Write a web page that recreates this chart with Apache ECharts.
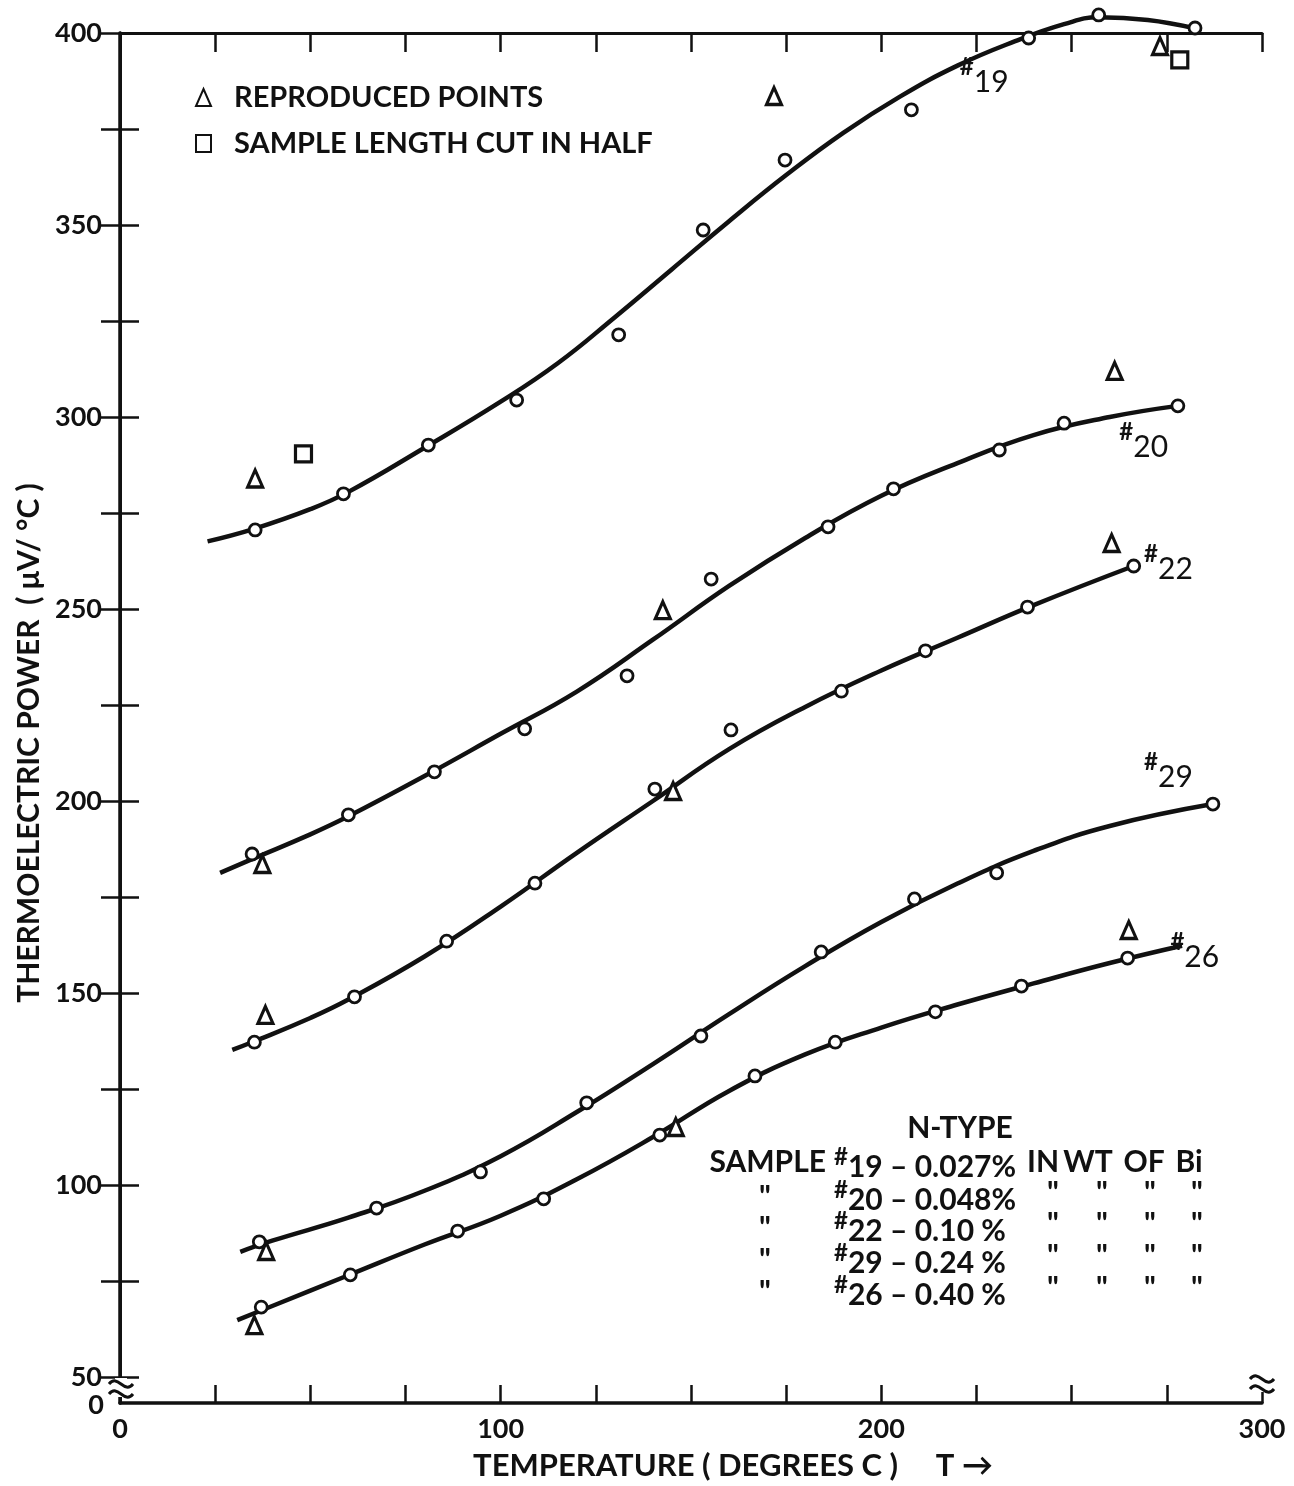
<!DOCTYPE html>
<html><head><meta charset="utf-8">
<script src="https://cdn.jsdelivr.net/npm/echarts@6/dist/echarts.min.js"></script>
<style>html,body{margin:0;padding:0;background:#fff}#c{width:1294px;height:1486px}</style>
</head><body><div id="c"></div>
<script>
// ---- axes ----
const xTickValues = [0,25,50,75,100,125,150,175,200,225,250,275,300];
const xLabelValues = [0,100,200,300];
const yTickValues = [50,75,100,125,150,175,200,225,250,275,300,325,350,375,400];
const yLabelValues = [50,100,150,200,250,300,350,400];
const yBreakValue = 43.23;   // axis break: bottom edge stands for 0
const yBreakLabel = '0';
const yMax = 400;

// ---- sample #19 ----
const s19Circles = [[35.5,270.6],[58.7,280],[81,292.7],[104.2,304.4],[131,321.4],[153.2,348.7],[174.7,366.9],[207.9,380],[238.7,398.7],[257.1,404.7],[282.4,401.3]];
const s19Triangles = [[35.5,284],[171.8,383.6],[273.2,396.6]];
const s19Squares = [[48.2,290.4],[278.4,393]];
const s19Curve = [[23,267.6],[35,270.8],[50,276],[60,280.5],[80,292],[100,304],[115,314],[130,326],[145,338.5],[160,351],[175,363],[190,374],[205,383.5],[220,391.5],[235,397.8],[248,402.3],[257,404.1],[270,403.4],[282,401.3]];
// ---- sample #20 ----
const s20Circles = [[34.7,186.2],[60,196.4],[82.6,207.6],[106.3,218.8],[133.2,232.6],[155.3,257.8],[186,271.4],[203.2,281.3],[231,291.4],[248,298.4],[277.9,302.9]];
const s20Triangles = [[37.4,183.6],[142.6,249.7],[261.3,312]];
const s20Curve = [[26.3,181.3],[35,185],[50,191.3],[60,196],[80,206.5],[100,217.5],[120,228.5],[140,242],[160,256],[180,268.5],[200,279.5],[220,288],[240,295.3],[260,300],[277.9,302.9]];
// ---- sample #22 ----
const s22Circles = [[35.3,137.2],[61.6,149],[85.8,163.5],[109,178.6],[140.5,203.1],[160.5,218.5],[189.5,228.6],[211.6,239.1],[238.4,250.5],[266.3,261.2]];
const s22Triangles = [[38.2,144.3],[145.3,202.6],[260.5,267.2]];
const s22Curve = [[29.5,135.2],[35,137.3],[50,143.5],[60,148.3],[80,159.5],[100,172.5],[120,186.5],[140,200],[160,213.5],[180,224.5],[200,234],[220,242.5],[240,251],[266.3,261.2]];
// ---- sample #29 ----
const s29Circles = [[36.6,85.2],[67.4,94],[94.7,103.4],[122.6,121.4],[152.6,138.8],[184.2,160.7],[208.7,174.5],[230.3,181.3],[287.1,199.2]];
const s29Triangles = [[38.4,82.8]];
const s29Curve = [[31.6,82.6],[40,85.5],[60,91.5],[80,98.5],[100,107.5],[120,119],[140,131.5],[160,144.5],[180,157],[200,168.5],[220,178.5],[240,187],[260,193.5],[287.1,199.2]];
// ---- sample #26 ----
const s26Circles = [[37.1,68.2],[60.5,76.6],[88.7,88],[111.3,96.4],[141.8,113],[166.8,128.4],[187.9,137.2],[214.2,145.1],[236.8,151.8],[264.7,159.1]];
const s26Triangles = [[35.3,63.5],[146,115.1],[265,166.4]];
const s26Curve = [[30.8,64.8],[40,68.5],[60,76.5],[80,84.5],[100,92],[120,101.5],[140,112.5],[160,124.5],[180,134],[200,141],[220,147],[240,152.5],[260,157.8],[279,162.3]];

// curve name tags: [x, y, number]
const curveTags = [[220.5,389.1,'19'],[262.4,294,'20'],[268.9,262.2,'22'],[268.9,208.1,'29'],[275.8,161.2,'26']];

const legendNames = ['REPRODUCED POINTS','SAMPLE LENGTH CUT IN HALF'];
const noteTitle = 'N-TYPE';
const noteSamples = ['19','20','22','29','26'];
const notePercents = ['0.027%','0.048%','0.10 %','0.24 %','0.40 %'];
const noteUnitWords = ['IN','WT','OF','Bi'];
const xName = 'TEMPERATURE ( DEGREES C )     T \u2192';
const yName = 'THERMOELECTRIC POWER  ( \u03BCV/ \u00B0C )';

const FONT = 'Lato, "Open Sans", sans-serif';
const INK = '#111';

const chart = echarts.init(document.getElementById('c'));

function curveSeries(data){
  return {type:'line', data, smooth:0.45, showSymbol:false, clip:false, silent:true, z:2,
    lineStyle:{color:INK, width:4.5}};
}

const grid = {left:120, right:32, top:33, bottom:83};

const option = {
  backgroundColor:'#fff',
  animation:false,
  grid,
  legend:{
    data:legendNames, orient:'vertical', left:190, top:78, itemGap:17,
    itemWidth:15, itemHeight:17, selectedMode:false,
    textStyle:{fontFamily:FONT, fontWeight:'bold', fontSize:29, color:INK, padding:[0,0,0,18]}
  },
  xAxis:[{
    type:'value', min:0, max:300, position:'bottom',
    name:xName, nameLocation:'middle', nameGap:47,
    nameTextStyle:{fontFamily:FONT, fontWeight:'bold', fontSize:31, color:INK, padding:[0,0,0,84]},
    axisLine:{show:true, lineStyle:{color:INK, width:3.5}},
    axisTick:{show:true, inside:true, length:18, customValues:xTickValues, lineStyle:{color:INK, width:2.5}},
    axisLabel:{customValues:xLabelValues, margin:13, fontFamily:FONT, fontWeight:'bold', fontSize:27, color:INK},
    splitLine:{show:false}
  },{
    type:'value', min:0, max:300, position:'top',
    axisLine:{show:true, lineStyle:{color:INK, width:3}},
    axisTick:{show:true, inside:true, length:19, customValues:xTickValues, lineStyle:{color:INK, width:2.5}},
    axisLabel:{show:false}, splitLine:{show:false}
  }],
  yAxis:[{
    type:'value', min:yBreakValue, max:yMax, position:'left',
    name:yName, nameLocation:'middle', nameGap:64,
    nameTextStyle:{fontFamily:FONT, fontWeight:'bold', fontSize:30, color:INK, padding:[0,50,0,0]},
    axisLine:{show:true, lineStyle:{color:INK, width:3.5}},
    axisTick:{show:true, inside:true, length:19, customValues:yTickValues, lineStyle:{color:INK, width:2.5}},
    axisLabel:{customValues:yLabelValues, margin:18,
      fontFamily:FONT, fontWeight:'bold', fontSize:27, color:INK},
    splitLine:{show:false}
  },{
    type:'value', min:yBreakValue, max:yMax, position:'right',
    axisLine:{show:true, lineStyle:{color:INK, width:3}},
    axisTick:{show:true, inside:true, length:19, customValues:yTickValues, lineStyle:{color:INK, width:2.5}},
    axisLabel:{show:false}, splitLine:{show:false}
  }],
  series:[
    curveSeries(s19Curve), curveSeries(s20Curve), curveSeries(s22Curve), curveSeries(s29Curve), curveSeries(s26Curve),
    {type:'scatter', name:'measured', data:[].concat(s19Circles,s20Circles,s22Circles,s29Circles,s26Circles),
      symbol:'circle', symbolSize:12, clip:false, z:4,
      itemStyle:{color:'#fff', borderColor:INK, borderWidth:2.8, opacity:1}},
    {type:'scatter', name:legendNames[0], data:[].concat(s19Triangles,s20Triangles,s22Triangles,s29Triangles,s26Triangles),
      symbol:'triangle', symbolSize:[15,17], clip:false, z:4,
      itemStyle:{color:'#fff', borderColor:INK, borderWidth:3.2, opacity:1}},
    {type:'scatter', name:legendNames[1], data:[].concat(s19Squares),
      symbol:'rect', symbolSize:16, clip:false, z:4,
      itemStyle:{color:'#fff', borderColor:INK, borderWidth:3.2, opacity:1}},
    {type:'scatter', name:'tags', data:curveTags.map(t => ({value:[t[0],t[1]], tag:t[2]})),
      symbolSize:1, itemStyle:{color:'rgba(0,0,0,0)', opacity:1}, clip:false, silent:true, z:5,
      label:{show:true, position:'right', distance:0,
        formatter:p => '{h|#}{n|' + p.data.tag + '}',
        rich:{h:{fontFamily:FONT, fontWeight:'bold', fontSize:24, color:INK, verticalAlign:'top', lineHeight:22},
              n:{fontFamily:FONT, fontWeight:'normal', fontSize:30, color:INK, lineHeight:40, padding:[14,0,0,0]}}}}
  ]
};
chart.setOption(option);

// ---- decorations: axis-break squiggles, break label and the N-TYPE note ----
const bl = chart.convertToPixel({xAxisIndex:0, yAxisIndex:0}, [0, yBreakValue]);
const br = chart.convertToPixel({xAxisIndex:0, yAxisIndex:0}, [300, yBreakValue]);
function squiggle(cx, cy){
  const mk = dy => ({type:'bezierCurve', shape:{x1:cx-12, y1:cy+dy, x2:cx+12, y2:cy+dy, cpx1:cx-3, cpy1:cy+dy-11, cpx2:cx+3, cpy2:cy+dy+11},
    style:{stroke:INK, lineWidth:3, fill:null}, z:20});
  return [
    {type:'rect', shape:{x:cx-6, y:cy-11, width:12, height:19}, style:{fill:'#fff'}, z:19},
    mk(-5), mk(5)
  ];
}
const txt = (x, y, text, align, size) => ({type:'text', x, y, z:20,
  style:{text, fill:INK, font:'bold ' + (size||29) + 'px ' + FONT, textAlign:align||'left', textVerticalAlign:'middle'}});
const rows = [1162, 1195, 1226, 1258, 1290];
const dittoCols = [1053, 1102, 1150, 1197];
const notes = [txt(960, 1128, noteTitle, 'center', 30)];
rows.forEach((y, i) => {
  if (i === 0) {
    notes.push(txt(826, y, 'SAMPLE', 'right', 30));
    notes.push(txt(1027, y, noteUnitWords[0], 'left', 30));
    notes.push(txt(1088, y, noteUnitWords[1], 'center', 30));
    notes.push(txt(1144, y, noteUnitWords[2], 'center', 30));
    notes.push(txt(1189, y, noteUnitWords[3], 'center', 30));
  } else {
    notes.push(txt(765, y + 2, '"', 'center', 30));
    dittoCols.forEach(x => notes.push(txt(x, y - 2, '"', 'center', 30)));
  }
  notes.push({type:'text', x:834, y, z:20, style:{
    text:'{h|#}{n|' + noteSamples[i] + ' \u2013 ' + notePercents[i] + '}',
    textVerticalAlign:'middle',
    rich:{h:{font:'bold 24px ' + FONT, fill:INK, verticalAlign:'top', lineHeight:22},
          n:{font:'bold 30px ' + FONT, fill:INK, lineHeight:34, padding:[10,0,0,0]}}}});
});
const zeroLabel = txt(bl[0] - 16, bl[1] + 2, yBreakLabel, 'right', 27);
chart.setOption({graphic:{elements:[].concat(squiggle(bl[0]+1, bl[1]-14), squiggle(br[0], br[1]-19), notes, [zeroLabel])}});
</script></body></html>
